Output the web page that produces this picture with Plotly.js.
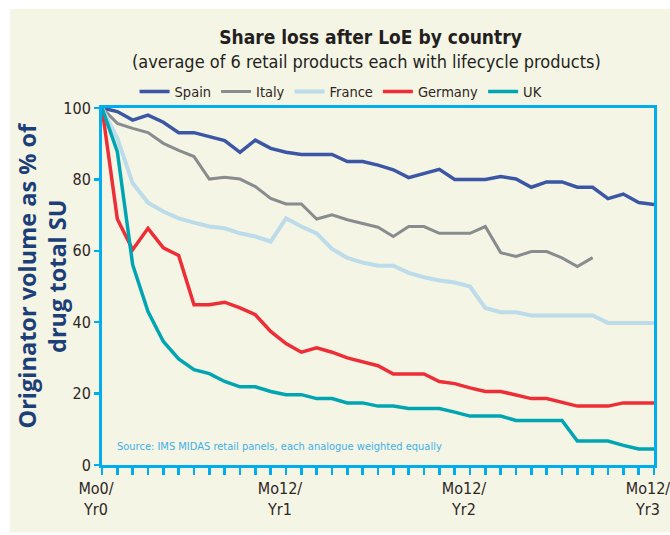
<!DOCTYPE html>
<html><head><meta charset="utf-8">
<script src="https://cdn.plot.ly/plotly-3.0.1.min.js"></script>
<style>html,body{margin:0;padding:0;background:#fff}</style>
</head><body><div id="chart" style="width:670px;height:535px"></div>
<script>
// Months after loss of exclusivity
const months = [0,1,2,3,4,5,6,7,8,9,10,11,12,13,14,15,16,17,18,19,20,21,22,23,24,25,26,27,28,29,30,31,32,33,34,35,36];
const countries = ['Spain','Italy','France','Germany','UK'];
// Originator volume as % of drug total SU
const spain   = [100,99,96.6,98,96,93.1,93.1,92,90.9,87.6,91,88.7,87.6,87,87,87,85,85,84,82.7,80.5,81.7,82.8,80,80,80,80.8,80.1,77.8,79.3,79.3,77.8,77.8,74.6,75.9,73.5,73];
const italy   = [100,95.7,94.3,93.1,90.1,88.1,86.4,80.1,80.6,80.1,78,74.7,73.1,73.1,68.9,70.1,68.7,67.7,66.6,64,66.8,66.8,64.9,64.9,64.9,66.8,59.5,58.4,59.8,59.8,58,55.6,58.1];
const france  = [100,91.5,78.9,73.5,71,69.1,67.9,66.8,66.3,64.9,64,62.6,69.1,66.8,64.9,60.5,58,56.7,55.8,55.8,53.8,52.6,51.7,51.1,50,44,42.8,42.8,41.9,41.9,41.9,41.9,41.9,39.8,39.8,39.8,39.8];
const germany = [100,68.9,60.3,66.3,60.8,58.7,44.9,44.9,45.6,44,42.1,37.4,34,31.6,32.8,31.6,30,28.9,27.8,25.5,25.5,25.5,23.4,22.8,21.6,20.6,20.6,19.5,18.6,18.6,17.6,16.5,16.5,16.5,17.4,17.4,17.4];
const uk      = [100,87.8,56.1,43,34.6,29.7,26.7,25.6,23.4,21.9,21.9,20.6,19.7,19.7,18.6,18.6,17.4,17.4,16.5,16.5,15.8,15.8,15.8,14.8,13.7,13.7,13.7,12.5,12.5,12.5,12.5,6.7,6.7,6.7,5.5,4.5,4.5];
const seriesValues = [spain, italy, france, germany, uk];
const xTickVals = [0,12,24,36];
const xTickText = ['Mo0/<br>Yr0','Mo12/<br>Yr1','Mo12/<br>Yr2','Mo12/<br>Yr3'];
const yTickVals = [0,20,40,60,80,100];

const colors = ['#3b56a5','#898c8e','#bcdcea','#ee2e36','#00a5b2'];
const widths = [3.5,3,4,3.5,3.5];
const F = '"DejaVu Sans Condensed", "Liberation Sans Narrow", "DejaVu Sans", sans-serif';
const AX = '#00aeef';
const CREAM = '#f5f5e6';
const TXT = '#2e2623';

const traces = countries.map((c,i)=>({
  type:'scatter', mode:'lines', name:c,
  x: months.slice(0, seriesValues[i].length), y: seriesValues[i],
  line:{color:colors[i], width:widths[i]},
  hoverinfo:'skip'
}));

const layout = {
  width:670, height:535,
  margin:{l:102, r:16, t:107.5, b:69.5},
  paper_bgcolor:'#ffffff', plot_bgcolor:CREAM,
  font:{family:F, color:TXT, size:15},
  showlegend:true,
  title:{
    text:'<b>Share loss after LoE by country</b>',
    font:{family:F, size:19, color:'#231f20'},
    x:0.553, xanchor:'center', xref:'container',
    y:0.93, yanchor:'middle', yref:'container'
  },
  legend:{
    orientation:'h', x:0.059, xanchor:'left', y:1.046, yanchor:'middle',
    xref:'paper', yref:'paper',
    font:{family:F, size:14.5, color:TXT},
    bgcolor:'rgba(0,0,0,0)', itemwidth:30, tracegroupgap:0
  },
  xaxis:{
    range:[0,36], showgrid:false, zeroline:false,
    showline:true, linecolor:AX, linewidth:3, mirror:true,
    tickvals:xTickVals, ticktext:xTickText,
    ticks:'outside', ticklen:7, tickwidth:2.5, tickcolor:AX,
    minor:{dtick:1, ticks:'outside', ticklen:7, tickwidth:2.5, tickcolor:AX, showgrid:false},
    tickfont:{family:F, size:16, color:TXT},
    ticklabelshift:-6, ticklabeloverflow:'allow'
  },
  yaxis:{
    range:[0,100], showgrid:false, zeroline:false,
    showline:true, linecolor:AX, linewidth:3, mirror:true,
    tickvals:yTickVals,
    ticks:'outside', ticklen:5, tickwidth:2.5, tickcolor:AX,
    tickfont:{family:F, size:16, color:TXT}
  },
  shapes:[
    {type:'rect', xref:'paper', yref:'paper', x0:-0.1672, x1:1.03, y0:-0.1885, y1:1.278,
     fillcolor:CREAM, line:{width:0}, layer:'below'}
  ],
  annotations:[
    {text:'(average of 6 retail products each with lifecycle products)', showarrow:false,
     xref:'paper', yref:'paper', x:0.48, xanchor:'center', y:1.13, yanchor:'middle',
     font:{family:F, size:18, color:'#231f20'}},
    {text:'<b>Originator volume as % of<br>drug total SU</b>', showarrow:false, textangle:-90,
     xref:'paper', yref:'paper', x:0, xshift:-60, y:0.5, yshift:11,
     xanchor:'center', yanchor:'middle',
     font:{family:'"Open Sans", "DejaVu Sans", sans-serif', size:23.5, color:'#1d3f78'}},
    {text:'Source: IMS MIDAS retail panels, each analogue weighted equally', showarrow:false,
     xref:'paper', yref:'paper', x:0.023, xanchor:'left', y:0.052, yanchor:'middle',
     font:{family:F, size:11, color:'#3fb0e6'}}
  ]
};

Plotly.newPlot('chart', traces, layout, {displayModeBar:false, staticPlot:true});
</script></body></html>
